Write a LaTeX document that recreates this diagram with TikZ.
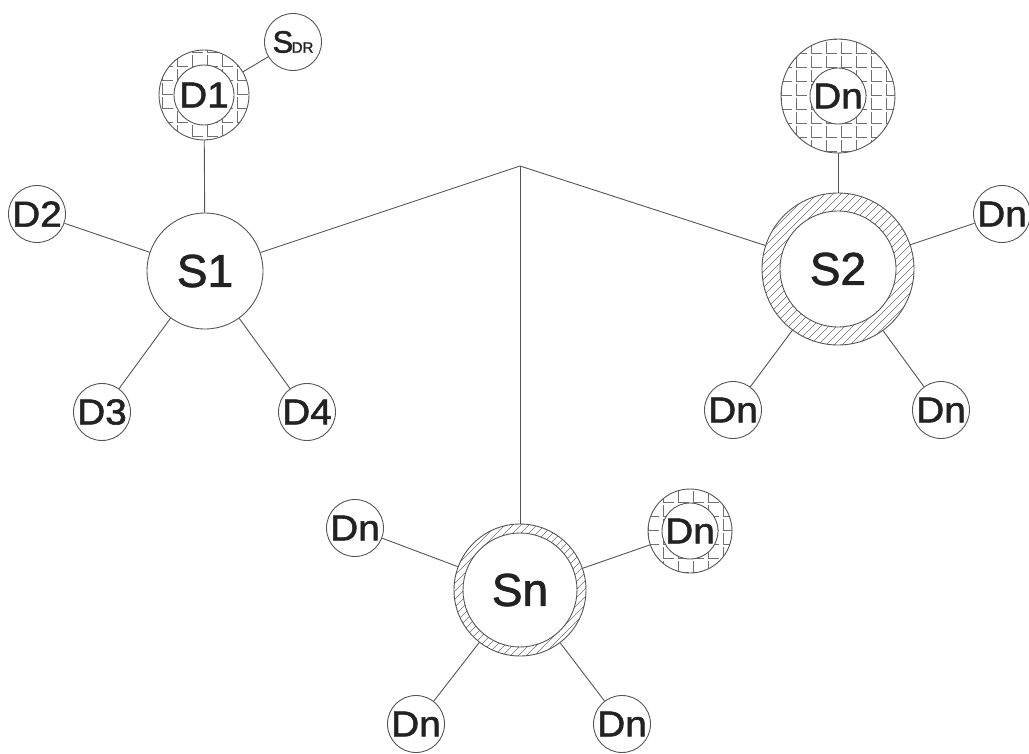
\documentclass[tikz,border=0pt]{standalone}
\usepackage{fontspec}
\setmainfont{Liberation Sans}[FakeBold=1.2]
\newfontfamily\lblfont{Liberation Sans}[FakeBold=1.6,FakeStretch=1.08]
\newfontfamily\bigfont{Liberation Sans}[FakeBold=1.6]
\usetikzlibrary{calc}
\definecolor{txt}{HTML}{222222}
\definecolor{edge}{HTML}{555555}
\definecolor{hatchc}{HTML}{707070}
\tikzset{
  conn/.style={draw=edge, line width=0.9pt},
  ringline/.style={draw=edge, line width=0.9pt},
  hatch/.style={draw=hatchc, line width=0.65pt},
  dnode/.style={circle, draw=edge, line width=0.9pt, minimum size=57pt, inner sep=0pt, text=txt, font=\lblfont\fontsize{36}{36}\selectfont},
  snode/.style={circle, draw=edge, line width=0.9pt, minimum size=116pt, inner sep=0pt, text=txt, font=\bigfont\fontsize{46}{46}\selectfont},
  hnode/.style={circle, draw=none, inner sep=0pt, text=txt},
}
\newcommand{\gridring}[3]{%
  \begin{scope}
    \clip ($(#1)$) circle (#2pt);
    \foreach \i in {-5,...,5}
      \foreach \j in {-5,...,5}
        \draw[hatch] ($(#1)+(\i*15+3,\j*14+2)$) -- ++(0,11) -- ++(11,0);
  \end{scope}
  \draw[ringline] (#1) circle (#2pt);
  \draw[ringline, fill=white] (#1) circle (#3pt);
}
\newcommand{\diagring}[4]{%
  \begin{scope}
    \clip (#1) circle (#2pt);
    \foreach \k in {-200,-192,...,200}
      \draw[hatch] ($(#1)+(\k-100,100)$) -- ++(200,-200);
  \end{scope}
  \draw[ringline] (#1) circle (#2pt);
  \draw[ringline, fill=white] (#1) circle (#3pt);
}
\begin{document}
\begin{tikzpicture}[x=1pt,y=-1pt]
\useasboundingbox (0,0) rectangle (1029,753);
% positions of ringed nodes
\coordinate (pD1) at (204,95);
\coordinate (pS2) at (838,269);
\coordinate (pDt) at (838,96);
\coordinate (pSn) at (520,590);
\coordinate (pDr) at (690,531);
\coordinate (J) at (520,166);

\gridring{pD1}{45}{30}
\gridring{pDt}{57}{28}
\gridring{pDr}{42}{28}
\diagring{pS2}{76}{58}{8}
\diagring{pSn}{66}{57}{8}

% group S1
\node[snode] (S1) at (205,271) {S1};
\node[hnode, minimum size=90pt, font=\lblfont\fontsize{36}{36}\selectfont] (D1) at (pD1) {D1};
\node[dnode] (SDR) at (293,42) {{\bigfont\fontsize{31}{31}\selectfont S}\kern-1.5pt{\bigfont\fontsize{15}{15}\selectfont DR}};
\node[dnode] (D2) at (37,214) {D2};
\node[dnode] (D3) at (102,412) {D3};
\node[dnode] (D4) at (307,412) {D4};

% group S2
\node[hnode, minimum size=152pt, font=\bigfont\fontsize{46}{46}\selectfont] (S2) at (pS2) {S2};
\node[hnode, minimum size=114pt, font=\lblfont\fontsize{36}{36}\selectfont] (Dt) at (pDt) {Dn};
\node[dnode] (Da) at (1002,214) {Dn};
\node[dnode] (Db) at (733,410) {Dn};
\node[dnode] (Dc) at (941,410) {Dn};

% group Sn
\node[hnode, minimum size=132pt, font=\bigfont\fontsize{46}{46}\selectfont] (Sn) at (pSn) {Sn};
\node[hnode, minimum size=84pt, font=\lblfont\fontsize{36}{36}\selectfont] (Dr) at (pDr) {Dn};
\node[dnode] (Dl) at (355,528) {Dn};
\node[dnode] (Dd) at (416,724) {Dn};
\node[dnode] (De) at (622,724) {Dn};

% connectors
\draw[conn] (D1) -- (SDR);
\draw[conn] (D1) -- (S1);
\draw[conn] (S1) -- (D2);
\draw[conn] (S1) -- (D3);
\draw[conn] (S1) -- (D4);
\draw[conn] (S1) -- (J);
\draw[conn] (J) -- (S2);
\draw[conn] (J) -- (Sn);
\draw[conn] (S2) -- (Dt);
\draw[conn] (S2) -- (Da);
\draw[conn] (S2) -- (Db);
\draw[conn] (S2) -- (Dc);
\draw[conn] (Sn) -- (Dl);
\draw[conn] (Sn) -- (Dr);
\draw[conn] (Sn) -- (Dd);
\draw[conn] (Sn) -- (De);
\end{tikzpicture}
\end{document}
